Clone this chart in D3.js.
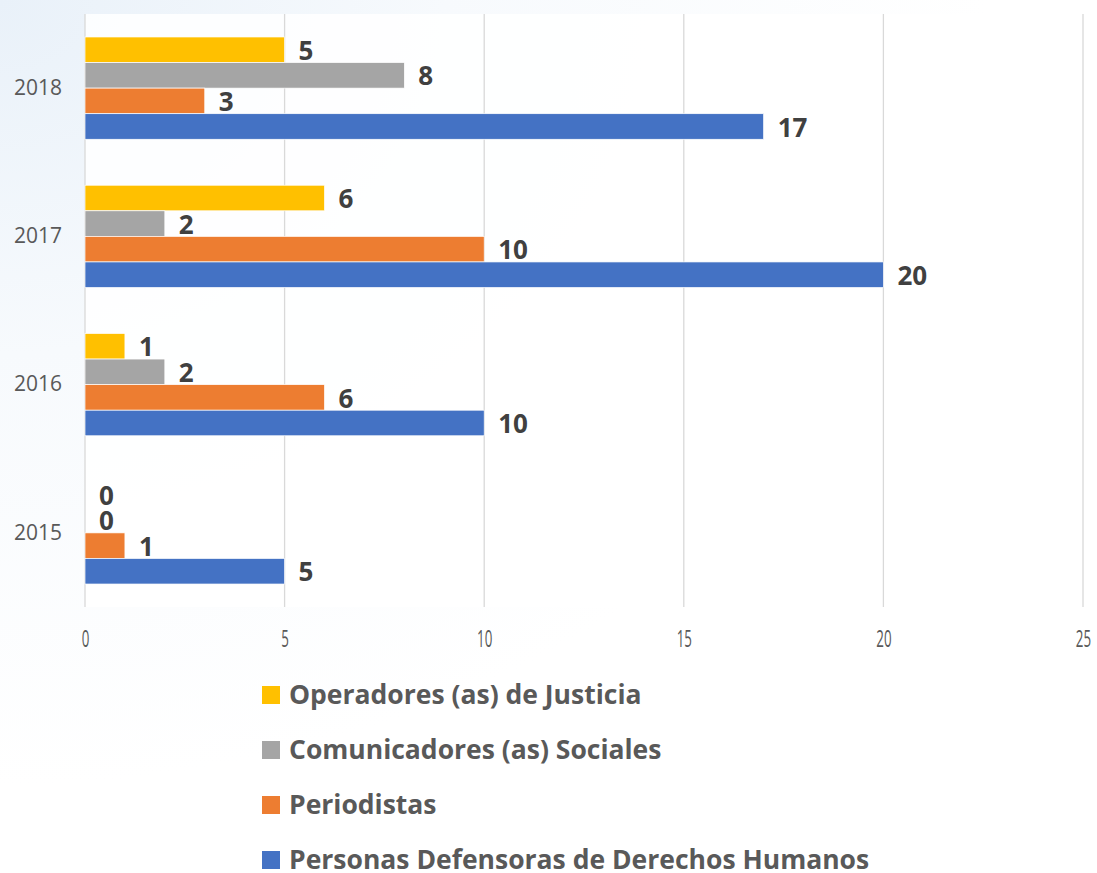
<!DOCTYPE html>
<html>
<head>
<meta charset="utf-8">
<script src="https://cdn.jsdelivr.net/npm/d3@7"></script>
<style>
  html, body { margin: 0; padding: 0; background: #fff; }
  svg { display: block; }
</style>
</head>
<body>
<svg id="chart"></svg>
<script>
const years = ["2018", "2017", "2016", "2015"];
const seriesNames = [
    "Operadores (as) de Justicia",
    "Comunicadores (as) Sociales",
    "Periodistas",
    "Personas Defensoras de Derechos Humanos"
];
const seriesColors = ["#FFC000", "#A5A5A5", "#ED7D31", "#4472C4"];
// values per year, same order as years
const operadores = [5, 6, 1, 0];
const comunicadores = [8, 2, 2, 0];
const periodistas = [3, 10, 6, 1];
const defensoras = [17, 20, 10, 5];
const xTicks = [0, 5, 10, 15, 20, 25];

const allValues = [operadores, comunicadores, periodistas, defensoras];

const width = 1097;
const height = 873;
const margin = ({ top: 14, right: 14, bottom: 266, left: 85 });

const svg = d3.select("#chart")
    .attr("width", width)
    .attr("height", height);

// faint blue wash in the top-left, like the slide background
const defs = svg.append("defs");
const grad = defs.append("radialGradient")
    .attr("id", "bg")
    .attr("cx", 0).attr("cy", 0).attr("r", 0.9);
grad.append("stop").attr("offset", "0%").attr("stop-color", "#e9f1f9");
grad.append("stop").attr("offset", "45%").attr("stop-color", "#f7fafd");
grad.append("stop").attr("offset", "100%").attr("stop-color", "#ffffff");
svg.append("rect").attr("width", width).attr("height", height).attr("fill", "url(#bg)");

// scales
let xScale = d3.scaleLinear()
    .domain([0, 25])
    .range([margin.left, 1083]);

let yScale = d3.scaleBand()
    .domain(years)
    .range([margin.top, height - margin.bottom])
    .paddingInner(0.31)
    .paddingOuter(0.155);

let subScale = d3.scaleBand()
    .domain(d3.range(seriesNames.length))
    .range([0, yScale.bandwidth()]);

// plot area white
svg.append("rect")
    .attr("x", xScale(0))
    .attr("y", margin.top)
    .attr("width", xScale(25) - xScale(0))
    .attr("height", 607 - margin.top)
    .attr("fill", "#fff")
    .attr("fill-opacity", 0.85);

// grid
svg.append("g")
    .selectAll("line")
    .data(xTicks)
    .join("line")
    .attr("x1", d => xScale(d))
    .attr("x2", d => xScale(d))
    .attr("y1", margin.top)
    .attr("y2", 607)
    .attr("stroke", "#d9d9d9")
    .attr("stroke-width", 1.3);

// x axis labels (narrow, tall digits)
const xAxis = g => g
    .attr("transform", `translate(0,${639})`)
    .call(d3.axisBottom(xScale).tickValues(xTicks).tickSize(0).tickPadding(0))
    .call(g => g.select(".domain").remove())
    .call(g => g.selectAll("text")
        .attr("y", 0)
        .attr("dy", "0.35em")
        .attr("transform", "scale(0.58,1)")
        .attr("font-family", "'Open Sans', sans-serif")
        .attr("font-size", 23)
        .attr("fill", "#595959"));
svg.append("g").call(xAxis);

// y axis labels
const yAxis = g => g
    .attr("transform", `translate(62,0)`)
    .call(d3.axisLeft(yScale).tickSize(0).tickPadding(0))
    .call(g => g.select(".domain").remove())
    .call(g => g.selectAll("text")
        .attr("font-family", "'Open Sans', sans-serif")
        .attr("font-size", 21)
        .attr("fill", "#595959"));
svg.append("g").call(yAxis);

// bars
const groups = svg.append("g")
    .selectAll("g")
    .data(years)
    .join("g")
    .attr("transform", d => `translate(0,${yScale(d)})`);

groups.each(function (year, yi) {
    const g = d3.select(this);
    allValues.forEach((vals, si) => {
        const v = vals[yi];
        g.append("rect")
            .attr("x", xScale(0))
            .attr("y", subScale(si))
            .attr("width", xScale(v) - xScale(0))
            .attr("height", subScale.bandwidth())
            .attr("fill", seriesColors[si])
            .attr("stroke", "#fff")
            .attr("stroke-width", 0.7);
        g.append("text")
            .attr("x", xScale(v) + 14)
            .attr("y", subScale(si) + subScale.bandwidth() / 2 + 1)
            .attr("dy", "0.35em")
            .attr("font-family", "'Open Sans', sans-serif")
            .attr("font-weight", 700)
            .attr("font-size", 26)
            .attr("fill", "#404040")
            .text(v);
    });
});

// legend
const legend = svg.append("g")
    .selectAll("g")
    .data(seriesNames)
    .join("g")
    .attr("transform", (d, i) => `translate(262,${695 + i * 55})`);

legend.append("rect")
    .attr("x", 0)
    .attr("y", -9)
    .attr("width", 18)
    .attr("height", 18)
    .attr("fill", (d, i) => seriesColors[i]);

legend.append("text")
    .attr("x", 27)
    .attr("y", 0)
    .attr("dy", "0.35em")
    .attr("font-family", "'Open Sans', sans-serif")
    .attr("font-weight", 700)
    .attr("font-size", 26.5)
    .attr("fill", "#595959")
    .text(d => d);
</script>
</body>
</html>
